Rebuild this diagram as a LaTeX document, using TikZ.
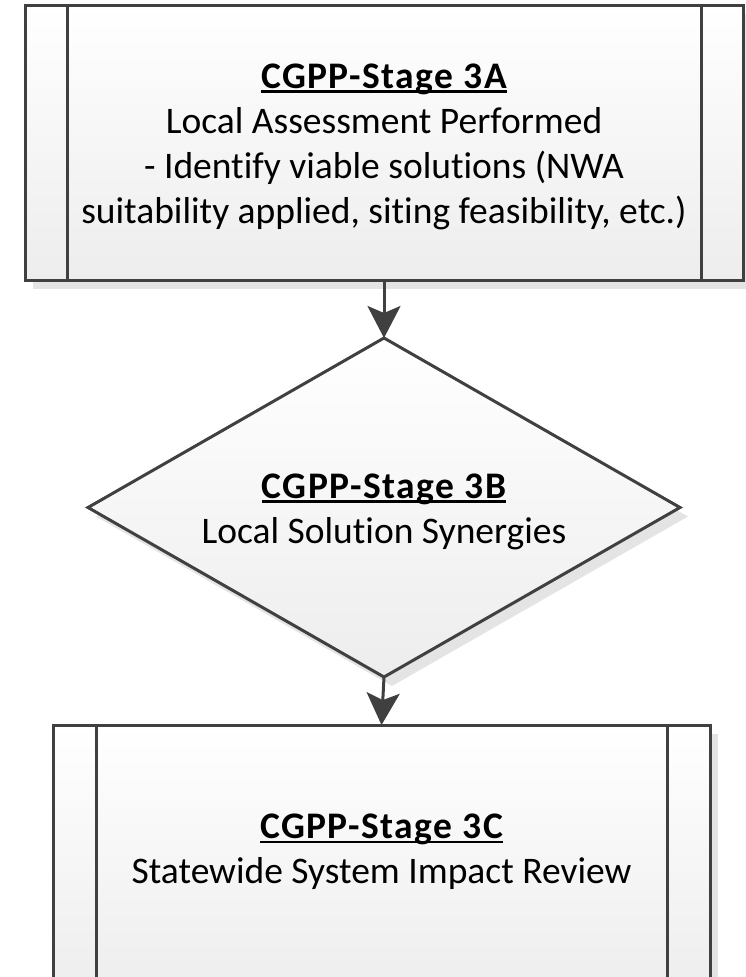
\documentclass[tikz,border=0pt]{standalone}
\usepackage{fontspec}
\setmainfont{Carlito}[Ligatures=NoCommon]
\usetikzlibrary{arrows.meta,shapes.geometric,shadows,calc}

\definecolor{edgegray}{HTML}{404040}
\definecolor{shadowgray}{HTML}{E4E4E4}
\definecolor{fillbottom}{HTML}{EDEDED}

% bold, slightly spaced title with an underline just under the baseline
\newcommand{\ultitle}[1]{\setbox0\hbox{\bfseries\addfontfeatures{LetterSpace=4}#1}\rlap{\rule[-4.5pt]{\wd0}{2.6pt}}\box0}

\begin{document}
\begin{tikzpicture}[x=1pt,y=-1pt,
  shapebase/.style={draw=edgegray, line width=3pt, outer sep=0pt,
    top color=white, bottom color=fillbottom,
    general shadow={fill=shadowgray, shadow xshift=8pt, shadow yshift=-9pt}},
  stagebox/.style={shapebase, rectangle},
  decision/.style={shapebase, diamond, shape aspect=1.75, inner sep=0pt},
  bodytext/.style={align=center, font=\fontsize{37.5}{45}\selectfont},
  strip/.style={draw=edgegray, line width=3pt},
  flow/.style={draw=edgegray, line width=3pt,
    -{Stealth[length=32pt, width=33pt, inset=7pt]}}]

\useasboundingbox (0,0) rectangle (745,977);

% stage 3A: predefined-process box
\node[stagebox, minimum width=718pt, minimum height=275pt] (s3a) at (384,142.5) {};
\draw[strip] ($(s3a.north west)+(42,0)$) -- ($(s3a.south west)+(42,0)$);
\draw[strip] ($(s3a.north east)+(-42,0)$) -- ($(s3a.south east)+(-42,0)$);
\node[bodytext] (s3atext) at (384,146.5) {\ultitle{CGPP-Stage 3A}\\Local Assessment Performed\\- Identify viable solutions (NWA\\suitability applied, siting feasibility, etc.)};

% stage 3B: decision
\node[decision, minimum width=592pt, minimum height=339pt] (s3b) at (384,507.5) {};
\node[bodytext] (s3btext) at (384,511.5) {\ultitle{CGPP-Stage 3B}\\Local Solution Synergies};

% stage 3C: predefined-process box, running past the lower edge
\node[stagebox, minimum width=657pt, minimum height=275pt] (s3c) at (381.5,862.5) {};
\draw[strip] ($(s3c.north west)+(43,0)$) -- ($(s3c.south west)+(43,0)$);
\draw[strip] ($(s3c.north east)+(-43,0)$) -- ($(s3c.south east)+(-43,0)$);
\node[bodytext] (s3ctext) at (381.5,852) {\ultitle{CGPP-Stage 3C}\\Statewide System Impact Review};

% connectors
\draw[flow] (s3a.south) -- (s3b.north);
\draw[flow] (s3b.south) -- (s3c.north);
\end{tikzpicture}
\end{document}
